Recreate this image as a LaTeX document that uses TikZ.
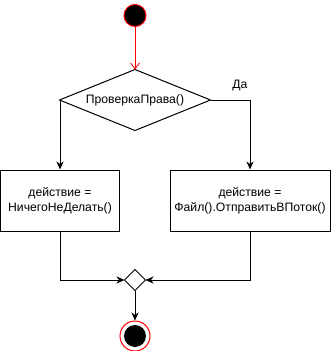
\documentclass[tikz,border=0pt]{standalone}
\usepackage{fontspec}
\setmainfont{Liberation Sans}
\usetikzlibrary{arrows.meta}
\begin{document}
\begin{tikzpicture}[x=1pt,y=-1pt,line width=1pt,
  font=\fontsize{12.2}{15.5}\selectfont,
  flow/.style={-{Stealth[length=8pt,width=7pt,inset=2.5pt]}},
  startflow/.style={red,-{Straight Barb[length=6pt,width=9pt,line width=0.8pt]}},
  action/.style={draw,rectangle,minimum height=61pt,align=center,inner sep=0pt},
  decision/.style={rectangle,inner sep=0pt},
  initial/.style={circle,draw=red,fill=black,minimum size=22pt,inner sep=0pt},
  final/.style={circle,draw=red,fill=white,minimum size=30pt,inner sep=0pt},
  finaldot/.style={circle,fill=black,minimum size=22pt,inner sep=0pt}]
  \useasboundingbox (0,0) rectangle (331,351);

  % nodes
  \node[initial] (start) at (135,15.5) {};
  \node[decision,minimum width=150pt,minimum height=60pt] (check) at (135,100) {ПроверкаПрава()};
  \node[action,minimum width=119pt] (noop) at (60,200.5) {действие =\\НичегоНеДелать()};
  \node[action,minimum width=160pt] (send) at (250,200.5) {действие =\\Файл().ОтправитьВПоток()};
  \node[decision,minimum width=20pt,minimum height=20pt] (merge) at (135,280) {};
  \node[final] (end) at (135,336) {};
  \node[finaldot] (enddot) at (end.center) {};
  \node (yes) at (240,86) {Да};

  % diamond outlines of the decision and merge nodes
  \draw[line join=miter] (check.north) -- (check.east) -- (check.south) -- (check.west) -- cycle;
  \draw[line join=miter] (merge.north) -- (merge.east) -- (merge.south) -- (merge.west) -- cycle;

  % connectors
  \draw[startflow] (start.south) -- (check.north);
  \draw[flow] (check.west) -| (noop.north);
  \draw[flow] (check.east) -| (send.north);
  \draw[flow] (noop.south) |- (merge.west);
  \draw[flow] (send.south) |- (merge.east);
  \draw[flow] (merge.south) -- (end.north);
\end{tikzpicture}
\end{document}
